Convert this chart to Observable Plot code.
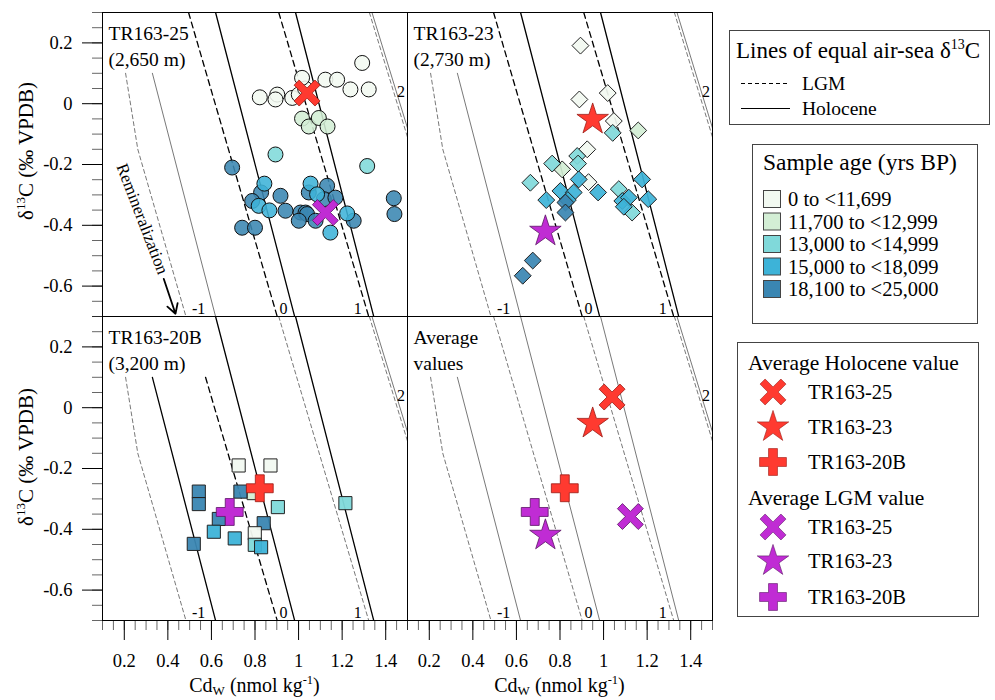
<!DOCTYPE html>
<html><head><meta charset="utf-8">
<script src="https://cdn.jsdelivr.net/npm/d3@7"></script>
<script src="https://cdn.jsdelivr.net/npm/@observablehq/plot@0.6"></script>
<style>
body{margin:0;background:#fff;}
#wrap{position:relative;width:995px;height:700px;font-family:"Liberation Serif","Times New Roman",serif;}
#wrap svg{position:absolute;left:0;top:0;}
#wrap text, #wrap tspan{font-family:"Liberation Serif","Times New Roman",serif !important;}
</style></head><body><div id="wrap"></div>
<script>
const SERIF = "'Liberation Serif', 'Times New Roman', serif";
// ---------- categories ----------
const ageBins = ["0 to <11,699","11,700 to <12,999","13,000 to <14,999","15,000 to <18,099","18,100 to <25,000"];
const ageColors = ["#f2f9f1","#d3eed5","#80d9da","#3db3d8","#3a86b2"];
const panels = ["TR163-25","TR163-23","TR163-20B","Average"];
const panelCol = ["L","R","L","R"];
const panelRow = ["T","T","B","B"];
const panelLabels = ["TR163-25\n(2,650 m)","TR163-23\n(2,730 m)","TR163-20B\n(3,200 m)","Average\nvalues"];

// ---------- data: [Cd_w, d13C, age bin index] ----------
const tr25 = [
 [0.822,0.021,0],[0.902,0.030,0],[0.894,0.014,0],[0.971,0.019,0],[1.001,0.030,0],[1.030,0.050,0],
 [1.016,0.085,0],[1.123,0.079,0],[1.177,0.079,0],[1.238,0.047,0],[1.322,0.047,0],[1.292,0.134,0],
 [1.016,-0.049,1],[1.047,-0.075,1],[1.093,-0.047,1],[1.133,-0.075,1],
 [0.894,-0.167,2],[1.315,-0.205,2],
 [0.695,-0.210,4],[0.828,-0.292,4],[0.787,-0.320,4],[0.917,-0.303,4],[0.940,-0.352,4],[1.047,-0.292,4],
 [1.131,-0.270,4],[1.116,-0.314,4],[1.169,-0.309,4],[1.009,-0.358,4],[1.032,-0.358,4],[1.039,-0.363,4],
 [1.001,-0.385,4],[1.078,-0.385,4],[1.253,-0.385,4],[0.741,-0.408,4],[0.800,-0.408,4],[1.437,-0.311,4],[1.440,-0.363,4],
 [0.843,-0.263,3],[0.817,-0.336,3],[0.866,-0.351,3],[1.055,-0.263,3],[1.085,-0.298,3],[1.223,-0.361,3],[1.146,-0.424,3]
];
const tr23 = [
 [0.894,0.191,0],[0.889,0.014,0],[1.019,0.035,0],[1.047,-0.057,0],[0.925,-0.150,0],[0.931,-0.258,0],
 [1.159,-0.088,1],[0.810,-0.216,1],
 [1.042,-0.096,2],[0.879,-0.172,2],[0.883,-0.197,2],[0.764,-0.197,2],[0.664,-0.260,2],[1.131,-0.358,2],[1.070,-0.281,2],
 [0.886,-0.249,3],[0.737,-0.317,3],[0.975,-0.292,3],[1.177,-0.249,3],[1.205,-0.314,3],[0.802,-0.287,3],
 [0.863,-0.292,3],[1.086,-0.320,3],[1.116,-0.309,3],[1.093,-0.339,3],[0.836,-0.317,3],
 [0.825,-0.325,4],[0.825,-0.358,4],[0.675,-0.516,4],[0.629,-0.566,4]
];
const tr20b = [
 [0.725,-0.190,0],[0.871,-0.190,0],
 [0.794,-0.281,1],
 [0.542,-0.276,4],[0.542,-0.317,4],[0.733,-0.276,4],[0.634,-0.366,4],[0.840,-0.380,4],[0.519,-0.448,4],
 [0.905,-0.327,2],[1.215,-0.314,2],
 [0.611,-0.408,3],[0.707,-0.430,3],
 [0.799,-0.413,0],[0.799,-0.451,2],[0.828,-0.459,3]
];

// ---------- averages ----------
const cores = ["TR163-25","TR163-23","TR163-20B"];
const holAvgCd = [1.039,0.950,0.822];
const holAvgD = [0.035,-0.052,-0.265];
const lgmAvgCd = [1.123,0.733,0.684];
const lgmAvgD = [-0.358,-0.420,-0.343];

// ---------- lines of equal air-sea d13C: [Cd_w, d13C] ----------
const lgmMinus1 = [[0.206,0.10],[0.262,-0.15],[0.483,-0.70]];
const holMinus1 = [[0.329,0.10],[0.619,-0.70]];
const lgmZero = [[0.495,0.30],[0.902,-0.70]];
const lgmZeroShort = [[0.573,0.10],[0.902,-0.70]];
const holZero = [[0.619,0.30],[0.982,-0.70]];
const lgmOne = [[0.909,0.30],[1.322,-0.70]];
const holOne = [[0.986,0.30],[1.345,-0.70]];
const lgmTwo = [[1.325,0.30],[1.50,-0.11]];
const holTwo = [[1.337,0.30],[1.50,-0.08]];
const boldLines = [
 ["lgm0","hol0","lgm1","hol1"],
 ["lgm0","hol0","lgm1","hol1"],
 ["hol-1","lgm0","hol0","hol1"],
 []
];
const lineLabelText = ["-1","0","1","2"];
const lineLabelCd = [0.541,0.931,1.272,1.470];
const lineLabelD = [-0.674,-0.674,-0.674,0.040];

// ---------- build tables ----------
const toRows = (arr, p) => arr.map(([cd,d13c,b]) => ({cd, d13c, age: ageBins[b], fx: panelCol[p], fy: panelRow[p]}));
const lineRows = [];
panels.forEach((p, i) => {
  const defs = [
    ["lgm-1","LGM",lgmMinus1],["hol-1","Hol",holMinus1],
    ["lgm0","LGM", i === 2 ? lgmZeroShort : lgmZero],["hol0","Hol",holZero],
    ["lgm1","LGM",lgmOne],["hol1","Hol",holOne],["lgm2","LGM",lgmTwo],["hol2","Hol",holTwo]
  ];
  defs.forEach(([id, period, pts]) => pts.forEach(([cd,d13c]) => lineRows.push({
    key: p + id, period, bold: boldLines[i].includes(id), cd, d13c, fx: panelCol[i], fy: panelRow[i]
  })));
});
const labelRows = panels.flatMap((p,i) => lineLabelText.map((t,j) => ({text:t, cd:lineLabelCd[j], d13c:lineLabelD[j], fx:panelCol[i], fy:panelRow[i]})));
const panelRows = panels.map((p,i) => ({label: panelLabels[i], fx: panelCol[i], fy: panelRow[i]}));
const avgRows = (period) => cores.flatMap((c,i) => {
  const cd = period === "Hol" ? holAvgCd[i] : lgmAvgCd[i];
  const d13c = period === "Hol" ? holAvgD[i] : lgmAvgD[i];
  return [{core:c, cd, d13c, fx: panelCol[i], fy: panelRow[i]}, {core:c, cd, d13c, fx:"R", fy:"B"}];
});
const holRows = avgRows("Hol"), lgmRows = avgRows("LGM");

// thick filled "X" symbol
const symbolThickX = {
  draw(context, size) {
    const s = Math.sqrt(size / Math.PI), L = 1.23 * s, t = 0.3 * s, c = Math.SQRT1_2;
    const pts = [[-t,-L],[t,-L],[t,-t],[L,-t],[L,t],[t,t],[t,L],[-t,L],[-t,t],[-L,t],[-L,-t],[-t,-t]];
    pts.forEach(([x,y],k) => { const X=(x-y)*c, Y=(x+y)*c; k ? context.lineTo(X,Y) : context.moveTo(X,Y); });
    context.closePath();
  }
};
const coreSymbol = [symbolThickX, d3.symbolStar, d3.symbolCross];
const coreR = [12, 9.9, 11.3];
const coreOrder = [2, 0, 1];
const RED = "#ff3a30", REDS = "#9b1b14", PUR = "#c02cd4", PURS = "#5c1566";

const avgMarks = (rows, fill, stroke) => coreOrder.map(i => Plot.dot(rows.filter(d => d.core === cores[i]), {
  x:"cd", y:"d13c", fx:"fx", fy:"fy", symbol: coreSymbol[i], r: coreR[i], fill, stroke, strokeWidth: 0.8
}));

const minorX = d3.range(2, 31).map(i => +(i*0.05).toFixed(2));
const majorX = [0.2,0.4,0.6,0.8,1,1.2,1.4];
const minorY = d3.range(-14, 7).map(i => +(i*0.05).toFixed(2));
const majorY = [-0.6,-0.4,-0.2,0,0.2];
const fmt = d => String(+d.toFixed(1));

const lineStyle = (period, bold) => ({
  x:"cd", y:"d13c", z:"key", fx:"fx", fy:"fy", clip: true,
  stroke: bold ? "#000" : "#555", strokeWidth: bold ? 1.3 : 0.8,
  strokeDasharray: period === "LGM" ? (bold ? "6,4" : "4,3") : null
});

const chart = Plot.plot({
  width: 720, height: 700,
  marginLeft: 102, marginRight: 8, marginTop: 11, marginBottom: 79.5,
  x: {domain: [0.1, 1.5]},
  y: {domain: [-0.7, 0.3]},
  fx: {domain: ["L","R"], padding: 0, axis: null},
  fy: {domain: ["T","B"], padding: 0, axis: null},
  color: {domain: ageBins, range: ageColors},
  style: {fontFamily: SERIF, fontSize: "18.5px", background: "transparent", color: "#000"},
  marks: [
    Plot.line(lineRows.filter(d => d.period==="LGM" && !d.bold), lineStyle("LGM", false)),
    Plot.line(lineRows.filter(d => d.period==="Hol" && !d.bold), lineStyle("Hol", false)),
    Plot.line(lineRows.filter(d => d.period==="LGM" && d.bold), lineStyle("LGM", true)),
    Plot.line(lineRows.filter(d => d.period==="Hol" && d.bold), lineStyle("Hol", true)),
    Plot.text(labelRows, {x:"cd", y:"d13c", text:"text", fx:"fx", fy:"fy", fontSize: 16, fontFamily: SERIF}),
    Plot.text(panelRows, {text:"label", fx:"fx", fy:"fy", frameAnchor:"top-left", dx: 6, dy: 10, lineHeight: 1.3, fontSize: 19.5, fontFamily: SERIF}),
    Plot.text([{t:"Remineralization", cd:0.283, d13c:-0.379}], {x:"cd", y:"d13c", text:"t", fx:()=>"L", fy:()=>"T", rotate: 69, fontSize: 17, fontFamily: SERIF}),
    Plot.arrow([{x1:0.381, y1:-0.576, x2:0.435, y2:-0.691}], {x1:"x1", y1:"y1", x2:"x2", y2:"y2", fx:()=>"L", fy:()=>"T", stroke:"#000", strokeWidth: 1.8, headLength: 9}),
    Plot.dot(toRows(tr25, 0), {x:"cd", y:"d13c", fx:"fx", fy:"fy", fill:"age", r: 7.5, stroke:"#111", strokeWidth: 1, fillOpacity: 0.88}),
    Plot.dot(toRows(tr23, 1), {x:"cd", y:"d13c", fx:"fx", fy:"fy", fill:"age", symbol:"diamond2", r: 7.6, stroke:"#222", strokeWidth: 1, fillOpacity: 0.92}),
    Plot.dot(toRows(tr20b, 2), {x:"cd", y:"d13c", fx:"fx", fy:"fy", fill:"age", symbol:"square", r: 7.4, stroke:"#222", strokeWidth: 1, fillOpacity: 0.95}),
    ...avgMarks(holRows, RED, REDS),
    ...avgMarks(lgmRows, PUR, PURS),
    Plot.frame({stroke:"#000"}),
    Plot.axisX({ticks: minorX, tickSize: 10, tickFormat: () => "", label: null, strokeOpacity: 0.6}),
    Plot.axisX({ticks: majorX, tickSize: 20, tickPadding: 13, tickFormat: fmt, label: null, fontFamily: SERIF}),
    Plot.axisY({ticks: minorY, tickSize: 10, tickFormat: () => "", label: null, strokeOpacity: 0.6}),
    Plot.axisY({ticks: majorY, tickSize: 20, tickPadding: 10, tickFormat: fmt, label: null, fontFamily: SERIF})
  ]
});
const wrap = document.getElementById("wrap");
wrap.appendChild(chart);

// axis titles with sub/superscripts
const svg = d3.select(chart);
[254.5, 559.5].forEach(cx => {
  const t = svg.append("text").attr("x", cx).attr("y", 692).attr("text-anchor","middle")
    .attr("font-size", 20).attr("fill","#000");
  t.append("tspan").text("Cd");
  t.append("tspan").attr("font-size", 13).attr("dy", 3).text("W");
  t.append("tspan").attr("dy", -3).text(" (nmol kg");
  t.append("tspan").attr("font-size", 12.5).attr("dy", -8).text("-1");
  t.append("tspan").attr("dy", 8).text(")");
});
[151, 457].forEach(cy => {
  const t = svg.append("text").attr("transform", `translate(33,${cy}) rotate(-90)`).attr("text-anchor","middle")
    .attr("font-size", 21).attr("fill","#000");
  t.append("tspan").text("δ");
  t.append("tspan").attr("font-size", 13).attr("dy", -8).text("13");
  t.append("tspan").attr("dy", 8).text("C (‰ VPDB)");
});

// ---------- legends ----------
const lg = d3.select(wrap).append("svg").attr("width", 995).attr("height", 700).style("pointer-events","none");
const box = (x,y,w,h) => lg.append("rect").attr("x",x).attr("y",y).attr("width",w).attr("height",h).attr("fill","#fff").attr("stroke","#444").attr("stroke-width",1);
const txt = (x,y,s,fs) => lg.append("text").attr("x",x).attr("y",y).attr("font-size",fs).attr("fill","#000").text(s);

box(729.5, 30.5, 260, 94);
const t1 = lg.append("text").attr("x", 736).attr("y", 58).attr("font-size", 23).attr("fill","#000");
t1.append("tspan").text("Lines of equal air-sea δ");
t1.append("tspan").attr("font-size", 14).attr("dy", -9).text("13");
t1.append("tspan").attr("dy", 9).text("C");
lg.append("line").attr("x1",741).attr("x2",788).attr("y1",83.5).attr("y2",83.5).attr("stroke","#000").attr("stroke-dasharray","4,3");
txt(802, 90, "LGM", 19.5);
lg.append("line").attr("x1",741).attr("x2",790).attr("y1",108.5).attr("y2",108.5).attr("stroke","#000");
txt(802, 115, "Holocene", 19.5);

box(752.5, 144.5, 225, 179);
txt(763, 170, "Sample age (yrs BP)", 23.5);
ageBins.forEach((b,i) => {
  const cy = 199 + i*22.5;
  lg.append("rect").attr("x",763.5).attr("y",cy-8.5).attr("width",17).attr("height",17).attr("fill",ageColors[i]).attr("stroke","#444");
  txt(788, cy+7, b, 20.5);
});

box(737.5, 342.5, 241, 274);
txt(748, 369.5, "Average Holocene value", 21.5);
txt(748, 504.5, "Average LGM value", 21.5);
const legendSym = (i, cy, fill, stroke) => lg.append("path")
  .attr("d", d3.symbol(coreSymbol[i], Math.PI*coreR[i]*coreR[i])())
  .attr("transform", `translate(773,${cy})`).attr("fill", fill).attr("stroke", stroke).attr("stroke-width", 0.6);
[392, 427, 462].forEach((cy,i) => { legendSym(i, cy, RED, REDS); txt(808, cy+7, cores[i], 20.5); });
[527, 561, 597].forEach((cy,i) => { legendSym(i, cy, PUR, PURS); txt(808, cy+7, cores[i], 20.5); });

d3.select(wrap).selectAll("text").style("font-family", SERIF);
</script></body></html>
